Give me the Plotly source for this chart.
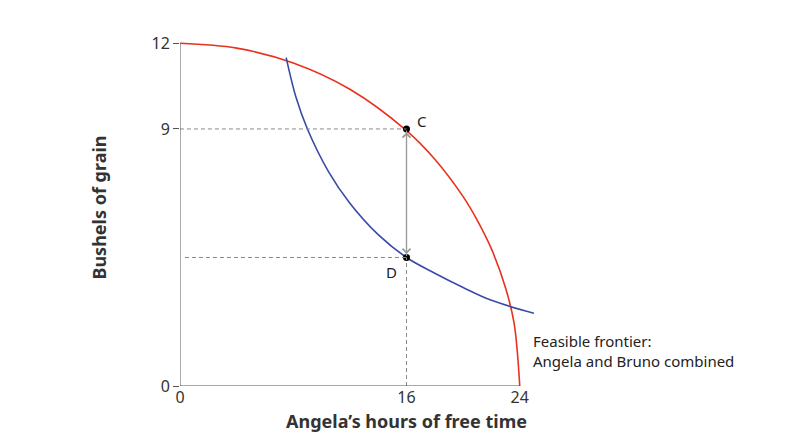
import plotly.graph_objects as go

frontier_x = [0, 4, 8, 12, 16, 18, 20, 21, 22, 23, 23.6, 24]
frontier_y = [12, 11.83, 11.31, 10.39, 8.94, 7.94, 6.63, 5.8, 4.8, 3.43, 2.2, 0]
ic_x = [7.5, 8.2, 9, 10.5, 12, 14, 16, 18, 20, 22, 25.0]
ic_y = [11.5, 10.1, 9.0, 7.5, 6.4, 5.3, 4.5, 3.95, 3.45, 3.0, 2.55]
point_c = (16, 9)
point_d = (16, 4.5)
x_ticks = [0, 16, 24]
y_ticks = [0, 9, 12]

red = "#e8321e"
blue = "#3a4aa6"
grey = "#888888"
font = "Noto Sans"
dash = "4px,3px"

fig = go.Figure()
fig.add_trace(go.Scatter(x=frontier_x, y=frontier_y, mode="lines", line=dict(color=red, width=1.6, shape="spline"), hoverinfo="skip"))
fig.add_trace(go.Scatter(x=ic_x, y=ic_y, mode="lines", line=dict(color=blue, width=1.6, shape="spline"), hoverinfo="skip"))

fig.add_shape(type="line", x0=-0.5, y0=point_c[1], x1=point_c[0], y1=point_c[1], line=dict(color=grey, width=1, dash=dash))
fig.add_shape(type="line", x0=0.35, y0=point_d[1], x1=point_d[0], y1=point_d[1], line=dict(color=grey, width=1, dash=dash))
fig.add_shape(type="line", x0=point_c[0], y0=0, x1=point_c[0], y1=point_d[1], line=dict(color=grey, width=1, dash=dash))
fig.add_shape(type="line", x0=0, y0=0, x1=0, y1=12, line=dict(color="#555", width=1))
fig.add_shape(type="line", x0=0, y0=0, x1=24, y1=0, line=dict(color="#555", width=1))

for (a, b) in [(point_c, point_d), (point_d, point_c)]:
    fig.add_annotation(x=b[0], y=b[1] + (0.12 if b[1] < a[1] else -0.12), ax=a[0], ay=a[1], xref="x", yref="y", axref="x", ayref="y",
                       showarrow=True, arrowhead=4, arrowsize=1.3, arrowwidth=1.2, arrowcolor="#999", text="")

fig.add_trace(go.Scatter(x=[point_c[0], point_d[0]], y=[point_c[1], point_d[1]], mode="markers", marker=dict(color="black", size=7), hoverinfo="skip"))

tf = dict(family=font, size=15, color="#222")
fig.add_annotation(x=point_c[0], y=point_c[1], text="C", showarrow=False, xshift=15, yshift=8, font=tf)
fig.add_annotation(x=point_d[0], y=point_d[1], text="D", showarrow=False, xshift=-15, yshift=-15, font=tf)
fig.add_annotation(x=9.1, y=12.55, xref="x", yref="y", text="Angela’s reservation<br>indifference curve, IC<sub>1</sub>", showarrow=False, xanchor="left", yanchor="top", align="left", font=tf)
fig.add_annotation(x=24.8, y=2.0, xref="x", yref="y", text="Feasible frontier:<br>Angela and Bruno combined", showarrow=False, xanchor="left", yanchor="top", align="left", font=tf)

fig.update_layout(
    width=810, height=436, margin=dict(l=172, r=185, t=21, b=58, autoexpand=False),
    plot_bgcolor="white", paper_bgcolor="white", showlegend=False,
    font=dict(family=font, color="#333"),
    xaxis=dict(range=[0, 32], tickvals=x_ticks, ticktext=[str(v) for v in x_ticks], showgrid=False, zeroline=False, showline=False,
               ticks="", automargin=False, tickfont=dict(size=16, color="#333"),
               title=dict(text="<b>Angela’s hours of free time</b>", font=dict(size=18, color="#333"), standoff=8)),
    yaxis=dict(range=[0, 12.5], tickvals=y_ticks, ticktext=[str(v) for v in y_ticks], showgrid=False, zeroline=False, showline=False,
               ticks="outside", ticklen=6, tickcolor="#555", automargin=False, tickfont=dict(size=16, color="#333"),
               title=dict(text="<b>Bushels of grain</b>", font=dict(size=18, color="#333"), standoff=40)),
)
fig.write_html("out.html")
